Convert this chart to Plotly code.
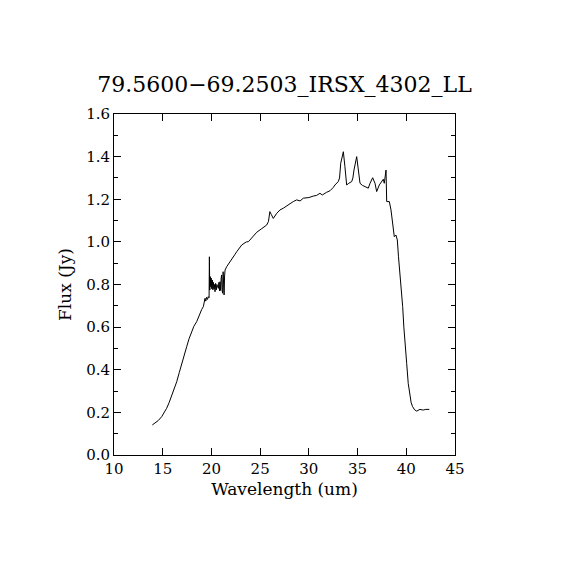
import plotly.graph_objects as go

# spectrum (wavelength in um, flux in Jy)
wavelength = [
    13.93, 14.2, 14.55, 14.9, 15.15, 15.4, 15.65, 15.9, 16.15, 16.44, 16.7,
    16.95, 17.2, 17.46, 17.7, 17.97, 18.2, 18.49, 18.65, 18.83, 19.0, 19.17,
    19.25, 19.34, 19.42, 19.5, 19.6, 19.68, 19.76, 19.79, 19.83, 19.88, 19.93,
    19.98, 20.03, 20.1, 20.15, 20.2, 20.26, 20.31, 20.37, 20.43, 20.5, 20.56,
    20.62, 20.71, 20.77, 20.83, 20.88, 20.94, 21.0, 21.05, 21.1, 21.15, 21.2,
    21.25, 21.3, 21.35, 21.4, 21.57, 21.7, 21.9, 22.05, 22.25, 22.4, 22.6,
    22.93, 23.1, 23.45, 23.6, 23.8, 24.2, 24.65, 25.1, 25.67, 25.85, 26.0,
    26.15, 26.35, 26.7, 27.04, 27.38, 27.9, 28.4, 28.75, 29.1, 29.43, 30.0,
    30.46, 30.8, 31.14, 31.38, 31.8, 32.17, 32.5, 32.68, 33.02, 33.15, 33.27,
    33.4, 33.54, 33.7, 33.88, 34.1, 34.4, 34.52, 34.63, 34.91, 35.07, 35.25,
    35.5, 35.76, 36.1, 36.28, 36.55, 36.79, 36.96, 37.23, 37.47, 37.64, 37.74,
    37.83, 37.92, 37.99, 38.26, 38.43, 38.6, 38.77, 38.94, 39.08, 39.2, 39.35,
    39.5, 39.63, 39.75, 39.87, 40.04, 40.2, 40.38, 40.5, 40.65, 40.85, 41.07,
    41.25, 41.4, 41.6, 41.75, 42.0, 42.36,
]
flux = [
    0.141, 0.149, 0.162, 0.18, 0.197, 0.219, 0.245, 0.274, 0.308, 0.344, 0.387,
    0.43, 0.47, 0.508, 0.545, 0.579, 0.604, 0.626, 0.645, 0.665, 0.683, 0.696,
    0.71, 0.735, 0.722, 0.74, 0.73, 0.743, 0.738, 0.93, 0.774, 0.837, 0.79,
    0.83, 0.78, 0.821, 0.775, 0.81, 0.78, 0.8, 0.766, 0.805, 0.775, 0.8,
    0.785, 0.782, 0.81, 0.77, 0.813, 0.772, 0.83, 0.845, 0.77, 0.759, 0.86,
    0.8, 0.751, 0.84, 0.868, 0.884, 0.892, 0.907, 0.915, 0.93, 0.94, 0.954,
    0.977, 0.985, 0.996, 1.0, 1.001, 1.02, 1.045, 1.06, 1.079, 1.095, 1.142,
    1.128, 1.11, 1.134, 1.15, 1.158, 1.175, 1.189, 1.197, 1.192, 1.205, 1.208,
    1.215, 1.218, 1.228, 1.22, 1.232, 1.24, 1.255, 1.267, 1.283, 1.3, 1.369,
    1.4, 1.423, 1.353, 1.267, 1.275, 1.283, 1.3, 1.337, 1.4, 1.337, 1.275,
    1.265, 1.259, 1.252, 1.275, 1.301, 1.275, 1.236, 1.267, 1.283, 1.294, 1.275,
    1.3, 1.337, 1.189, 1.189, 1.15, 1.09, 1.024, 1.032, 1.009, 0.93, 0.853,
    0.77, 0.696, 0.6, 0.508, 0.43, 0.336, 0.274, 0.245, 0.227, 0.212, 0.206,
    0.21, 0.214, 0.212, 0.211, 0.214, 0.214,
]

x_ticks = [10, 15, 20, 25, 30, 35, 40, 45]
y_ticks = [0.0, 0.2, 0.4, 0.6, 0.8, 1.0, 1.2, 1.4, 1.6]
title = "79.5600\u221269.2503_IRSX_4302_LL"

serif = "DejaVu Serif, Liberation Serif, serif"

fig = go.Figure(
    go.Scatter(
        x=wavelength,
        y=flux,
        mode="lines",
        line=dict(color="black", width=1),
        showlegend=False,
        hoverinfo="skip",
    )
)

axis_common = dict(
    showline=True,
    linecolor="black",
    linewidth=1,
    mirror="ticks",
    ticks="inside",
    ticklen=7,
    tickcolor="black",
    tickwidth=1,
    showgrid=False,
    zeroline=False,
    tickfont=dict(family=serif, size=15, color="black"),
)

fig.update_xaxes(
    range=[10, 45],
    tickvals=x_ticks,
    ticktext=[str(v) for v in x_ticks],
    title=dict(text="Wavelength (um)", font=dict(family=serif, size=17, color="black"), standoff=6),
    **axis_common,
)
fig.update_yaxes(
    range=[0, 1.6],
    tickvals=y_ticks,
    ticktext=[f"{v:.1f}" for v in y_ticks],
    minor=dict(dtick=0.1, ticklen=4, ticks="inside", tickcolor="black", showgrid=False),
    title=dict(text="Flux (Jy)", font=dict(family=serif, size=17, color="black"), standoff=10),
    **axis_common,
)

# the page adds an 8px body margin, so the box is placed 8px up/left
fig.update_layout(
    width=570,
    height=570,
    margin=dict(l=106, r=123, t=106, b=123),
    paper_bgcolor="white",
    plot_bgcolor="white",
    title=dict(
        text=title,
        x=(284.5 - 8) / 570,
        xanchor="center",
        y=1 - 76 / 570,
        yanchor="middle",
        font=dict(family=serif, size=22, color="black"),
    ),
)

fig.write_html("out.html")
